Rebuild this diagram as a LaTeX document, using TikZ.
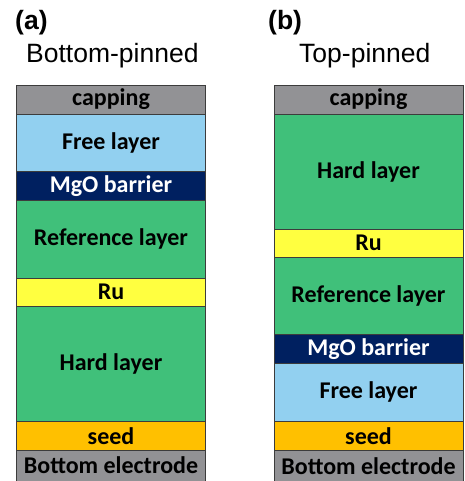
\documentclass[tikz,border=0pt]{standalone}
\usepackage{fontspec}
\setmainfont{Liberation Sans}
\newfontfamily\layerfont{Carlito}
\usetikzlibrary{positioning}
\definecolor{capgray}{RGB}{146,146,149}
\definecolor{freeblue}{RGB}{146,208,240}
\definecolor{mgonavy}{RGB}{0,32,96}
\definecolor{fmgreen}{RGB}{64,192,122}
\definecolor{ruyellow}{RGB}{255,255,64}
\definecolor{seedorange}{RGB}{255,192,0}
\definecolor{edgegray}{RGB}{60,60,60}

\begin{document}
\begin{tikzpicture}[x=1pt, y=-1pt,
    layer/.style={draw=edgegray, line width=0.9pt, minimum width=189pt, inner sep=0pt,
      font=\layerfont\bfseries\fontsize{24}{26}\selectfont},
    heading/.style={anchor=base west, inner sep=0pt, font=\fontsize{26.5}{30}\selectfont}]

  \useasboundingbox (0,0) rectangle (464,481);

  % Headings
  \node[heading, font=\fontsize{26.5}{30}\selectfont\bfseries] (labA) at (15,30) {(a)};
  \node[heading] (titleA) at (26,63) {Bottom-pinned};
  \node[heading, font=\fontsize{26.5}{30}\selectfont\bfseries] (labB) at (268,30) {(b)};
  \node[heading] (titleB) at (299,63) {Top-pinned};

  % (a) bottom-pinned stack
  \foreach \nm/\yt/\yb/\col/\tc/\txt in {
      capA/85/114/capgray/black/capping,
      freeA/114/171/freeblue/black/Free layer,
      mgoA/171/200.5/mgonavy/white/MgO barrier,
      refA/200.5/278/fmgreen/black/Reference layer,
      ruA/278/306.5/ruyellow/black/Ru,
      hardA/306.5/421.5/fmgreen/black/Hard layer,
      seedA/421.5/450/seedorange/black/seed,
      elecA/450/481/capgray/black/Bottom electrode
  } {
    \node[layer, fill=\col, text=\tc, minimum height={(\yb-\yt)*1pt}] (\nm) at (111,{(\yt+\yb)/2}) {\txt};
  }

  % (b) top-pinned stack
  \foreach \nm/\yt/\yb/\col/\tc/\txt in {
      capB/85/114/capgray/black/capping,
      hardB/114/229/fmgreen/black/Hard layer,
      ruB/229/257.5/ruyellow/black/Ru,
      refB/257.5/334/fmgreen/black/Reference layer,
      mgoB/334/363.5/mgonavy/white/MgO barrier,
      freeB/363.5/421/freeblue/black/Free layer,
      seedB/421/450.5/seedorange/black/seed,
      elecB/450.5/481/capgray/black/Bottom electrode
  } {
    \node[layer, fill=\col, text=\tc, minimum height={(\yb-\yt)*1pt}] (\nm) at (368.5,{(\yt+\yb)/2}) {\txt};
  }
\end{tikzpicture}
\end{document}
